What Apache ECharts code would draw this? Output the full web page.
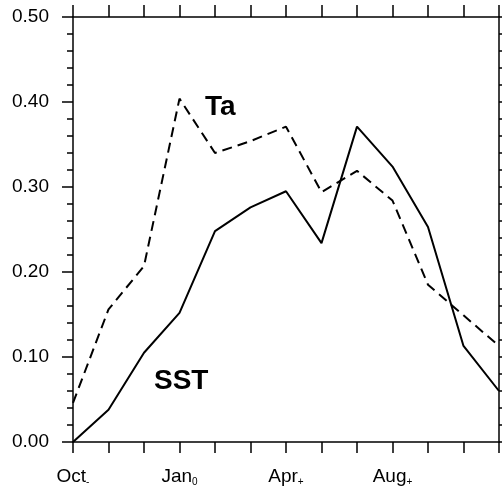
<!DOCTYPE html>
<html>
<head>
<meta charset="utf-8">
<script src="https://cdn.jsdelivr.net/npm/echarts@6/dist/echarts.min.js"></script>
<style>html,body{margin:0;padding:0;background:#fff;}#c{width:502px;height:491px;}</style>
</head>
<body>
<div id="c"></div>
<script>
const categories = ['Oct-','Nov-','Dec-','Jan0','Feb0','Mar0','Apr+','May+','Jun+','Jul+','Aug+','Sep+','Oct+'];
const tickLabels = {0:'{m|Oct}{s|-}', 3:'{m|Jan}{s|0}', 6:'{m|Apr}{s|+}', 9:'{m|Aug}{s|+}'};
const sstValues = [0.000, 0.038, 0.105, 0.152, 0.248, 0.276, 0.295, 0.234, 0.371, 0.324, 0.253, 0.113, 0.060];
const taValues  = [0.046, 0.156, 0.207, 0.404, 0.340, 0.354, 0.371, 0.294, 0.319, 0.284, 0.185, 0.149, 0.113];
const yTicks = [0, 0.1, 0.2, 0.3, 0.4, 0.5];

const chart = echarts.init(document.getElementById('c'), null, {renderer:'canvas'});
const font = 'Liberation Sans, Arial, Helvetica, sans-serif';
const axisLine = {show:true, onZero:false, lineStyle:{color:'#000', width:1.5}};
const option = {
  animation:false,
  backgroundColor:'#fff',
  grid:{left:73, right:3, top:17, bottom:49, containLabel:false},
  xAxis:[{
    type:'category', data:categories, boundaryGap:false, position:'bottom',
    axisLine:axisLine,
    axisTick:{show:true, interval:0, length:11, inside:false, lineStyle:{color:'#000', width:1.5}},
    axisLabel:{
      interval:0, margin:25,
      formatter:(v,i)=> tickLabels[i] || '',
      rich:{
        m:{fontFamily:font, fontSize:19, color:'#000', lineHeight:20},
        s:{fontFamily:font, fontSize:10, color:'#000', verticalAlign:'bottom', padding:[8,0,0,0], lineHeight:20}
      }
    },
    splitLine:{show:false}
  },{
    type:'category', data:categories, boundaryGap:false, position:'top',
    axisLine:axisLine,
    axisTick:{show:true, interval:0, length:12, lineStyle:{color:'#000', width:1.5}},
    axisLabel:{show:false}, splitLine:{show:false}
  }],
  yAxis:[{
    type:'value', min:yTicks[0], max:yTicks[yTicks.length-1], interval:0.1, position:'left',
    axisLine:axisLine,
    axisTick:{show:true, length:11, lineStyle:{color:'#000', width:1.5}},
    minorTick:{show:true, splitNumber:5, length:6, lineStyle:{color:'#000', width:1.5}},
    axisLabel:{margin:24, fontFamily:font, fontSize:19, color:'#000', formatter:v=>v.toFixed(2)},
    splitLine:{show:false}
  },{
    type:'value', min:yTicks[0], max:yTicks[yTicks.length-1], interval:0.1, position:'right',
    axisLine:axisLine,
    axisTick:{show:true, length:11, lineStyle:{color:'#000', width:1.5}},
    minorTick:{show:true, splitNumber:5, length:6, lineStyle:{color:'#000', width:1.5}},
    axisLabel:{show:false}, splitLine:{show:false}
  }],
  series:[{
    name:'SST', type:'line', data:sstValues, symbol:'none',
    lineStyle:{color:'#000', width:2, type:'solid'}
  },{
    name:'Ta', type:'line', data:taValues, symbol:'none',
    lineStyle:{color:'#000', width:2, type:[10,6]}
  }],
  graphic:[
    {type:'text', left:205, top:93, style:{text:'Ta', font:'bold 28px '+font, fill:'#000'}},
    {type:'text', left:154, top:367, style:{text:'SST', font:'bold 28px '+font, fill:'#000'}}
  ]
};
chart.setOption(option);
</script>
</body>
</html>
